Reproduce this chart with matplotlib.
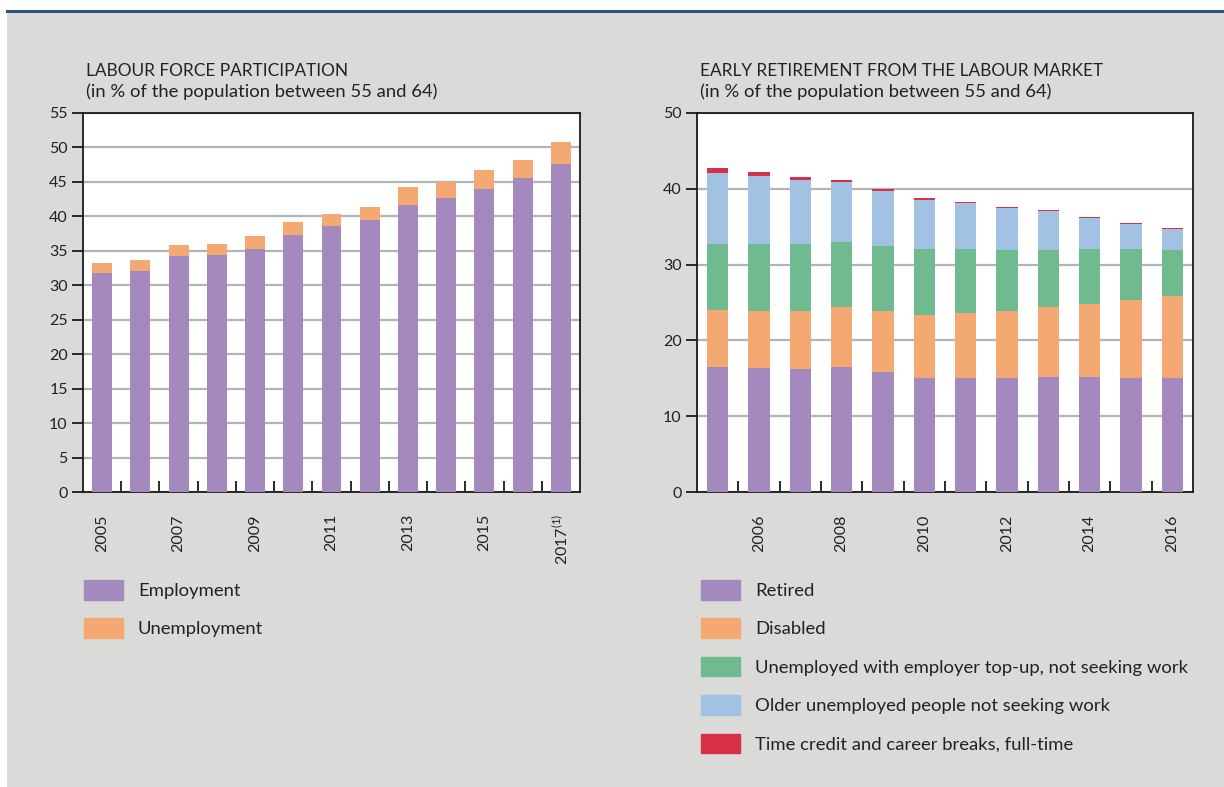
import numpy as np
import matplotlib
matplotlib.use("Agg")
import matplotlib.pyplot as plt
from matplotlib.patches import Patch, Rectangle
from matplotlib.lines import Line2D

plt.rcParams['font.family'] = ['Lato', 'DejaVu Sans']
plt.rcParams['text.color'] = '#222222'

# labour force participation, % of population aged 55-64
lf_years = ['2005', '2006', '2007', '2008', '2009', '2010', '2011', '2012',
            '2013', '2014', '2015', '2016', '2017']
employment = [31.8, 32.0, 34.3, 34.4, 35.2, 37.3, 38.6, 39.5, 41.7, 42.6, 44.0, 45.5, 47.6]
unemployment = [1.5, 1.6, 1.6, 1.6, 2.0, 1.9, 1.8, 1.9, 2.5, 2.4, 2.8, 2.7, 3.2]

# early retirement from the labour market, % of population aged 55-64
er_years = ['2005', '2006', '2007', '2008', '2009', '2010', '2011', '2012',
            '2013', '2014', '2015', '2016']
retired = [16.5, 16.35, 16.2, 16.5, 15.8, 15.0, 15.0, 15.0, 15.15, 15.15, 15.0, 15.0]
disabled = [7.5, 7.55, 7.7, 7.9, 8.1, 8.35, 8.6, 8.9, 9.25, 9.65, 10.3, 10.85]
topup = [8.75, 8.85, 8.85, 8.6, 8.6, 8.7, 8.45, 8.05, 7.55, 7.25, 6.75, 6.1]
older_unemp = [9.4, 9.0, 8.45, 7.95, 7.25, 6.5, 6.1, 5.55, 5.15, 4.1, 3.3, 2.75]
time_credit = [0.55, 0.5, 0.4, 0.25, 0.25, 0.25, 0.15, 0.1, 0.12, 0.12, 0.12, 0.12]

PURPLE = '#a389bd'
ORANGE = '#f5a972'
GREEN = '#6fba8e'
BLUE = '#a1c2e3'
RED = '#d9304a'
BG = '#dadad8'
GRID = '#b4b4b4'

W, H = 1224, 787
fig = plt.figure(figsize=(W / 100, H / 100), dpi=100)
fig.patch.set_facecolor('white')

# grey panel and blue rule along the top
fig.add_artist(Rectangle((7 / W, 0), 1 - 7 / W, 1 - 12 / H, transform=fig.transFigure,
                         facecolor=BG, edgecolor='none', zorder=-10))
fig.add_artist(Line2D([7 / W, 1], [1 - 10.5 / H, 1 - 10.5 / H], transform=fig.transFigure,
                      color='#2f5283', lw=2.2))


def px_axes(left, right, top, bottom):
    return fig.add_axes([left / W, 1 - bottom / H, (right - left) / W, (bottom - top) / H])


def style_axes(ax, n, ymax, step, labels, label_every, label_start):
    ax.set_facecolor('white')
    ax.set_xlim(-0.5, n - 0.5)
    ax.set_ylim(0, ymax)
    ax.set_yticks(np.arange(0, ymax + 0.1, step))
    ax.yaxis.grid(True, color=GRID, lw=1.6)
    ax.set_axisbelow(True)
    for s in ax.spines.values():
        s.set_color('#1a1a1a')
        s.set_linewidth(1.3)
    ax.tick_params(axis='y', direction='out', length=8, width=1.3, color='#1a1a1a',
                   labelsize=11.5, pad=3, labelcolor='#222222')
    pos = list(range(label_start, n, label_every))
    ax.set_xticks(pos)
    ax.set_xticklabels([labels[i] for i in pos], rotation=90, fontsize=11.5, color='#222222')
    ax.tick_params(axis='x', which='major', length=0, pad=16)
    ax.set_xticks(np.arange(0.5, n - 1), minor=True)
    ax.tick_params(axis='x', which='minor', direction='in', length=8, width=1.3, color='#1a1a1a')


# left panel
ax1 = px_axes(83, 580, 113, 492)
x1 = np.arange(len(lf_years))
ax1.bar(x1, employment, width=0.52, color=PURPLE, zorder=3)
ax1.bar(x1, unemployment, width=0.52, bottom=employment, color=ORANGE, zorder=3)
lf_labels = lf_years[:-1] + ['2017$^{\\mathregular{(1)}}$']
style_axes(ax1, len(lf_years), 55, 5, lf_labels, 2, 0)

fig.text(86 / W, 1 - 76 / H, 'LABOUR FORCE PARTICIPATION', fontsize=12.4, va='baseline')
fig.text(86 / W, 1 - 96.5 / H, '(in % of the population between 55 and 64)', fontsize=13.3,
         va='baseline')

# right panel
ax2 = px_axes(697, 1193, 113, 492)
x2 = np.arange(len(er_years))
series = [retired, disabled, topup, older_unemp, time_credit]
colors = [PURPLE, ORANGE, GREEN, BLUE, RED]
bottom = np.zeros(len(er_years))
for vals, c in zip(series, colors):
    ax2.bar(x2, vals, width=0.51, bottom=bottom, color=c, zorder=3)
    bottom = bottom + np.array(vals)
style_axes(ax2, len(er_years), 50, 10, er_years, 2, 1)

fig.text(700 / W, 1 - 76 / H, 'EARLY RETIREMENT FROM THE LABOUR MARKET', fontsize=12.4,
         va='baseline')
fig.text(700 / W, 1 - 96.5 / H, '(in % of the population between 55 and 64)', fontsize=13.3,
         va='baseline')

# legends
leg_kw = dict(loc='upper left', frameon=False, fontsize=13.3, handlelength=2.1,
              handleheight=1.25, handletextpad=0.82, labelspacing=1.02,
              borderpad=0, borderaxespad=0)
fig.legend(handles=[Patch(color=PURPLE, label='Employment'),
                    Patch(color=ORANGE, label='Unemployment')],
           bbox_to_anchor=(84 / W, 1 - 580 / H), **leg_kw)
er_names = ['Retired', 'Disabled', 'Unemployed with employer top-up, not seeking work',
            'Older unemployed people not seeking work',
            'Time credit and career breaks, full-time']
fig.legend(handles=[Patch(color=c, label=l) for c, l in zip(colors, er_names)],
           bbox_to_anchor=(701 / W, 1 - 580 / H), **leg_kw)

fig.savefig('out.png', dpi=100, facecolor=fig.get_facecolor())
